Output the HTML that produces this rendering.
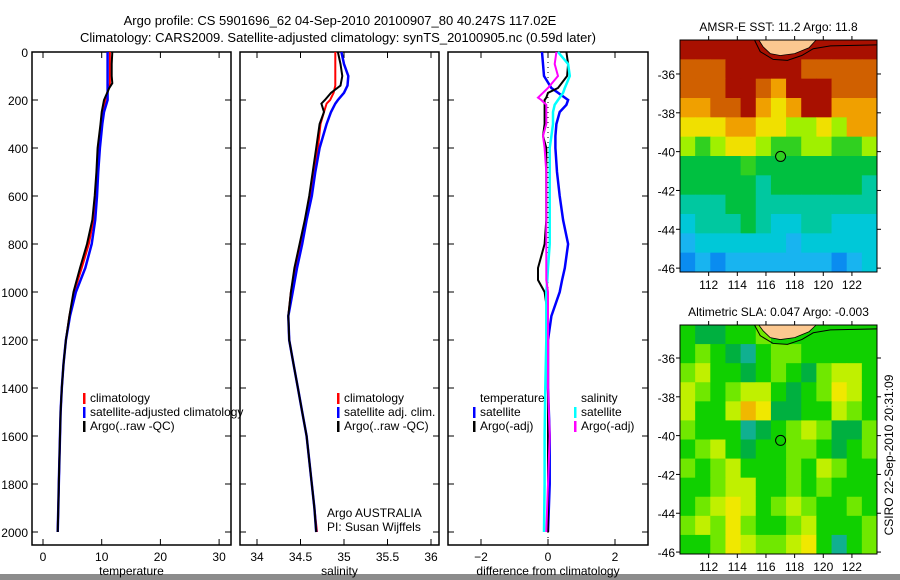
<!DOCTYPE html>
<html><head><meta charset="utf-8"><style>
body{margin:0;background:#fff;}
svg{display:block;font-family:"Liberation Sans",sans-serif;}
text{font-size:12px;fill:#000;}
</style></head><body>
<svg id="fig" width="900" height="580" viewBox="0 0 900 580">
<rect x="0" y="0" width="900" height="580" fill="#fff"/>
<rect x="0" y="574" width="900" height="6" fill="#8c8c8c"/>
<text x="340" y="25" text-anchor="middle" style="font-size:13px">Argo profile: CS 5901696_62 04-Sep-2010 20100907_80 40.247S 117.02E</text>
<text x="338" y="42" text-anchor="middle" style="font-size:13px">Climatology: CARS2009. Satellite-adjusted climatology: synTS_20100905.nc (0.59d later)</text>
<g id="panels"></g>
<g id="maps"></g>
<text transform="translate(893,455) rotate(-90)" text-anchor="middle">CSIRO 22-Sep-2010 20:31:09</text>
</svg>
<script>
// ---- profile data ----
const depthsT = [0,50,100,130,150,200,250,300,400,500,600,700,800,900,1000,1100,1200,1300,1400,1500,1600,1700,1800,1900,2000];
const tempClim = [11.4,11.4,11.4,11.4,11.2,10.6,10.2,9.9,9.5,9.2,9.0,8.6,7.8,6.6,5.3,4.5,3.9,3.5,3.2,3.0,2.9,2.8,2.7,2.6,2.5];
const tempSat  = [11.0,11.0,11.0,11.0,11.0,11.0,10.4,10.1,9.7,9.4,9.2,8.9,8.3,7.2,5.6,4.6,3.9,3.5,3.2,3.0,2.9,2.8,2.7,2.6,2.5];
const tempArgo = [11.8,11.7,11.7,11.8,11.3,10.4,10.0,9.8,9.3,9.1,8.8,8.4,7.5,6.3,5.2,4.5,3.9,3.5,3.2,3.0,2.9,2.8,2.7,2.6,2.5];
const depthsS = [0,50,100,140,170,200,215,250,300,400,500,600,700,800,900,1000,1100,1200,1300,1400,1500,1600,1700,1800,1900,2000];
const salClim = [34.9,34.9,34.9,34.9,34.88,34.84,34.8,34.77,34.73,34.70,34.65,34.62,34.56,34.50,34.44,34.39,34.36,34.37,34.42,34.47,34.52,34.57,34.60,34.63,34.66,34.69];
const salSat  = [34.97,35.0,35.05,35.04,35.0,34.93,34.9,34.85,34.8,34.72,34.67,34.63,34.57,34.52,34.46,34.41,34.36,34.37,34.42,34.47,34.52,34.57,34.60,34.63,34.66,34.68];
const salArgo = [34.93,34.96,34.98,34.96,34.85,34.78,34.74,34.77,34.72,34.68,34.64,34.60,34.55,34.49,34.43,34.39,34.36,34.37,34.42,34.47,34.52,34.57,34.60,34.63,34.66,34.68];
const depthsD = [0,50,100,150,170,190,200,220,250,300,350,400,500,600,700,800,900,950,1000,1100,1200,1400,1600,1800,2000];
const diffTSat  = [-0.18,-0.15,-0.12,0.1,0.3,0.5,0.6,0.55,0.35,0.25,0.22,0.22,0.27,0.35,0.45,0.6,0.5,0.42,0.35,0.1,0.0,0.0,0.05,0.05,0.0];
const diffTArgo = [0.55,0.6,0.57,0.3,0.0,-0.05,-0.1,-0.1,-0.1,-0.1,-0.15,-0.05,-0.05,-0.05,-0.05,-0.1,-0.3,-0.3,-0.1,0.0,0.0,0.0,0.0,0.0,0.0];
const diffSSat  = [0.3,0.6,0.65,0.5,0.45,0.35,0.3,0.2,0.15,0.15,0.1,0.05,0.05,0.05,0.05,0.05,0.0,-0.02,-0.05,-0.05,-0.05,-0.08,-0.1,-0.1,-0.12];
const diffSArgo = [0.25,0.2,0.3,0.0,-0.15,-0.3,-0.2,-0.05,-0.05,-0.05,-0.15,-0.1,-0.05,-0.05,-0.05,-0.05,-0.05,-0.05,0.0,0.0,0.0,0.0,0.05,0.0,-0.05];
const depthTicks = [0,200,400,600,800,1000,1200,1400,1600,1800,2000];
const tempTicks = [0,10,20,30];
const salTicks = [34,34.5,35,35.5,36];
const salTickLabels = ["34","34.5","35","35.5","36"];
const diffTicks = [-2,0,2];
const diffTickLabels = ["\u22122","0","2"];

const NS='http://www.w3.org/2000/svg';
function mk(tag,attrs,parent){const e=document.createElementNS(NS,tag);for(const k in attrs)e.setAttribute(k,attrs[k]);parent.appendChild(e);return e;}
const yD = d => 52 + d*0.24;
const panelsG = document.getElementById('panels');

function panel(name,x0,x1,xScale,ticks,labels,xlabel,showY){
  const g = mk('g',{},panelsG);
  
  
  const f = mk('rect',{x:x0,y:52,width:x1-x0,height:493,fill:'none',stroke:'#000','stroke-width':1.5},g);
  
  
  depthTicks.forEach(d=>{
    mk('line',{x1:x0,x2:x0+6,y1:yD(d),y2:yD(d),stroke:'#000'},g);
    mk('line',{x1:x1-6,x2:x1,y1:yD(d),y2:yD(d),stroke:'#000'},g);
    if(showY){const t=mk('text',{x:x0-4,y:yD(d)+5,'text-anchor':'end'},g);t.textContent=d;
      
      }
  });
  ticks.forEach((v,i)=>{
    const x=xScale(v);
    mk('line',{x1:x,x2:x,y1:545,y2:539,stroke:'#000'},g);
    mk('line',{x1:x,x2:x,y1:52,y2:58,stroke:'#000'},g);
    const t=mk('text',{x:x,y:561,'text-anchor':'middle'},g);t.textContent=labels[i];
    
    
  });
  const xl=mk('text',{x:(x0+x1)/2,y:575,'text-anchor':'middle'},g);xl.textContent=xlabel;
  
  
  return g;
}
function line(g,depths,vals,xScale,color,name,w){
  const pts=depths.map((d,i)=>xScale(vals[i]).toFixed(1)+','+yD(d).toFixed(1)).join(' ');
  const p=mk('polyline',{points:pts,fill:'none',stroke:color,'stroke-width':w||2},g);
  
  
}
function legend(g,x,y,items){
  items.forEach((it,i)=>{
    if(it[1]) mk('rect',{x:x,y:y+i*14-9,width:2.5,height:11,fill:it[1]},g);
    const t=mk('text',{x:x+7,y:y+i*14},g);t.textContent=it[0];
    
    
  });
}
// temperature
const xT = v => 43 + v*5.87;
const gT = panel('temperature',32,231,xT,tempTicks,tempTicks.map(String),'temperature',true);
line(gT,depthsT,tempClim,xT,'#f00','temp-climatology-line');
line(gT,depthsT,tempSat,xT,'#00f','temp-satellite-line',2.5);
line(gT,depthsT,tempArgo,xT,'#000','temp-argo-line');
legend(gT,83,402,[['climatology','#f00'],['satellite-adjusted climatology','#00f'],['Argo(..raw -QC)','#000']]);
// salinity
const xS = v => 257 + (v-34)*87;
const gS = panel('salinity',240,439,xS,salTicks,salTickLabels,'salinity',false);
line(gS,depthsS,salClim,xS,'#f00','sal-climatology-line');
line(gS,depthsS,salSat,xS,'#00f','sal-satellite-line',2.5);
line(gS,depthsS,salArgo,xS,'#000','sal-argo-line');
legend(gS,337,402,[['climatology','#f00'],['satellite adj. clim.','#00f'],['Argo(..raw -QC)','#000']]);
const a1=mk('text',{x:327,y:517},gS);a1.textContent='Argo AUSTRALIA';

const a2=mk('text',{x:327,y:531},gS);a2.textContent='PI: Susan Wijffels';

// difference
const xDf = v => 548 + v*33.5;
const gD = panel('difference',448,648,xDf,diffTicks,diffTickLabels,'difference from climatology',false);
mk('line',{x1:xDf(0),x2:xDf(0),y1:52,y2:545,stroke:'#000','stroke-dasharray':'1,4'},gD);
line(gD,depthsD,diffTSat,xDf,'#00f','diff-temp-satellite-line',2.5);
line(gD,depthsD,diffTArgo,xDf,'#000','diff-temp-argo-line');
line(gD,depthsD,diffSSat,xDf,'#0ff','diff-sal-satellite-line',2.5);
line(gD,depthsD,diffSArgo,xDf,'#f0f','diff-sal-argo-line');
legend(gD,473,402,[['temperature',null],['satellite','#00f'],['Argo(-adj)','#000']]);
legend(gD,574,402,[['salinity',null],['satellite','#0ff'],['Argo(-adj)','#f0f']]);

// ---- map data ----
const sstColors=['#0a8cf0','#18b4f0','#00c8d8','#00c8a0','#00c040','#30d020','#a0f000','#f0e000','#f0a000','#d06000','#a81000'];
const sstGrid=[
[10,10,10,10,10,10,10,10,10,10,10,10,10],
[9,9,9,10,10,10,10,10,9,9,9,9,9],
[9,9,9,10,10,9,8,10,10,10,9,9,9],
[8,8,9,9,10,8,7,8,10,10,8,8,8],
[7,7,7,8,8,7,7,6,6,7,6,8,8],
[6,5,6,7,7,6,5,5,6,6,5,5,6],
[4,4,4,4,5,4,4,4,4,4,4,4,4],
[4,4,4,4,4,3,4,4,4,4,4,4,3],
[3,3,3,4,4,3,3,3,3,3,3,3,3],
[2,3,3,3,4,3,2,2,3,3,2,2,2],
[1,2,2,2,2,2,2,1,2,2,2,2,2],
[0,1,0,1,1,1,1,1,1,1,0,1,2]];
const slaColors=['#10b090','#00b040','#10d000','#70e800','#c0f000','#f0e800','#f0b800'];
const slaGrid=[
[2,1,1,2,2,3,2,2,2,2,2,2,2],
[2,3,2,1,0,2,3,3,2,2,2,2,2],
[3,4,2,2,1,2,3,2,1,3,4,4,2],
[4,3,2,3,4,4,2,1,2,3,5,4,2],
[4,2,2,4,6,5,1,1,2,2,4,3,2],
[3,2,2,2,0,1,2,3,4,3,1,1,3],
[2,3,4,2,1,2,2,3,3,2,1,2,3],
[3,2,3,4,2,2,2,3,2,4,3,2,2],
[2,2,3,4,4,2,2,3,2,3,2,2,2],
[2,3,4,5,4,2,3,4,3,2,2,3,2],
[3,4,3,5,3,2,2,3,4,2,2,2,3],
[2,2,3,5,4,3,3,4,5,2,0,2,3]];
const lonTicks=[112,114,116,118,120,122];
const latTicks=[-36,-38,-40,-42,-44,-46];
const argoLon=117.02, argoLat=-40.247;
const lonMin=110.0, lonMax=123.75;

const mapsG=document.getElementById('maps');
function map(name,top,bottom,latMax,latMin,grid,colors,title){
  const g=mk('g',{},mapsG);
  
  
  const L=680,R=877;
  const xL=v=>L+(v-lonMin)/(lonMax-lonMin)*(R-L);
  const yL=v=>top+(latMax-v)/(latMax-latMin)*(bottom-top);
  const rows=grid.length, cols=grid[0].length;
  const cw=(R-L)/cols, ch=(bottom-top)/rows;
  grid.forEach((row,r)=>row.forEach((v,c)=>{
    const cell=mk('rect',{x:L+c*cw,y:top+r*ch,width:cw+0.5,height:ch+0.5,fill:colors[v]},g);
    
    
  }));
  const land=[[115.5,latMax],[115.8,-34.6],[116.3,-34.95],[117.0,-35.05],[118.0,-34.95],[119.0,-34.65],[119.5,latMax]];
  const lp=mk('polygon',{points:land.map(p=>xL(p[0])+','+yL(p[1])).join(' '),fill:'#fcc890'},g);
  
  const c1=[[115.2,latMax],[115.6,-34.85],[116.5,-35.25],[117.5,-35.3],[118.5,-35.05],[119.3,-34.7],[120.5,-34.55],[123.75,-34.5]];
  mk('polyline',{points:c1.map(p=>xL(p[0])+','+yL(p[1])).join(' '),fill:'none',stroke:'#000','stroke-width':1},g);
  mk('polyline',{points:land.map(p=>xL(p[0])+','+yL(p[1])).join(' '),fill:'none',stroke:'#000','stroke-width':0.8},g);
  const fr=mk('rect',{x:L,y:top,width:R-L,height:bottom-top,fill:'none',stroke:'#000','stroke-width':1},g);
  
  lonTicks.forEach(v=>{
    mk('line',{x1:xL(v),x2:xL(v),y1:bottom,y2:bottom+4,stroke:'#000'},g);
    mk('line',{x1:xL(v),x2:xL(v),y1:top,y2:top-4,stroke:'#000'},g);
    const t=mk('text',{x:xL(v),y:bottom+17,'text-anchor':'middle'},g);t.textContent=v;
    
  });
  latTicks.forEach(v=>{
    mk('line',{x1:L-4,x2:L,y1:yL(v),y2:yL(v),stroke:'#000'},g);
    mk('line',{x1:R,x2:R+4,y1:yL(v),y2:yL(v),stroke:'#000'},g);
    const t=mk('text',{x:L-5,y:yL(v)+5,'text-anchor':'end'},g);t.textContent=v;
    
  });
  const dot=mk('circle',{cx:xL(argoLon),cy:yL(argoLat),r:5,fill:colors[name==='sst'?5:2],stroke:'#000','stroke-width':1},g);
  
  const tt=mk('text',{x:(L+R)/2,y:top-9,'text-anchor':'middle'},g);tt.textContent=title;
  
}
map('sst',40,272,-34.25,-46.2,sstGrid,sstColors,'AMSR-E SST: 11.2 Argo: 11.8');
map('sla',325,554,-34.3,-46.1,slaGrid,slaColors,'Altimetric SLA: 0.047 Argo: -0.003');
</script>
</body></html>
